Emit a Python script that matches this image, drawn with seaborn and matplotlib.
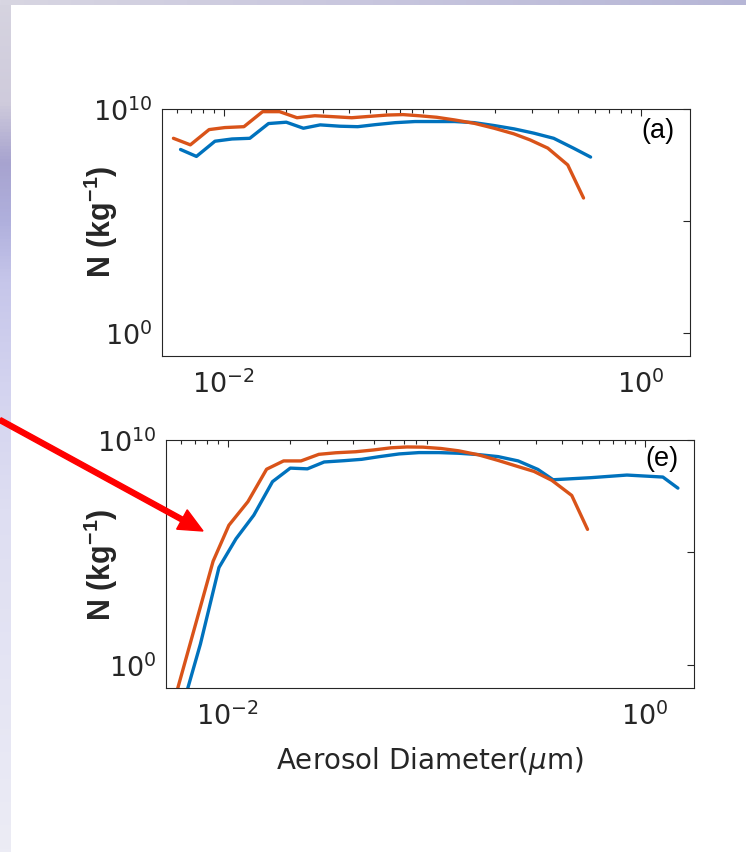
import matplotlib
matplotlib.use("Agg")
import numpy as np
import pandas as pd
import matplotlib.pyplot as plt
from matplotlib.patches import FancyArrow
from matplotlib.transforms import IdentityTransform
from matplotlib.ticker import LogLocator, NullLocator, FixedLocator, FixedFormatter
from matplotlib.colors import LinearSegmentedColormap
import seaborn as sns

# ---- size-distribution data (diameter in micrometres, N in kg^-1) ----
diam_orange = [0.00574, 0.00692, 0.00851, 0.01013, 0.0125, 0.01536, 0.01853,
               0.02246, 0.02735, 0.0330, 0.0411, 0.0500, 0.0608, 0.0724,
               0.0863, 0.105, 0.128, 0.159, 0.198, 0.246, 0.294, 0.358,
               0.446, 0.531]
diam_blue_a = [0.00621, 0.0074, 0.00908, 0.01096, 0.01334, 0.0164, 0.01995,
               0.0241, 0.0290, 0.0361, 0.0439, 0.0534, 0.0664, 0.0826,
               0.1028, 0.128, 0.159, 0.198, 0.247, 0.307, 0.382, 0.475, 0.574]
diam_blue_e = [0.00621, 0.0074, 0.00908, 0.01096, 0.01334, 0.0164, 0.01995,
               0.0241, 0.0290, 0.0361, 0.0439, 0.0534, 0.0664, 0.0826,
               0.1028, 0.128, 0.159, 0.198, 0.247, 0.307, 0.363, 0.55, 0.82,
               1.22, 1.44]

n_orange_a = [4.9e8, 2.5e8, 1.2e9, 1.48e9, 1.62e9, 7.6e9, 7.6e9, 4.07e9,
              5.0e9, 4.57e9, 4.07e9, 4.68e9, 5.37e9, 5.62e9, 5.0e9, 4.27e9,
              3.24e9, 2.29e9, 1.38e9, 7.76e8, 4.17e8, 1.78e8, 3.16e7, 1.05e6]
n_blue_a = [1.55e8, 7.6e7, 3.63e8, 4.57e8, 4.9e8, 2.24e9, 2.57e9, 1.38e9,
            1.95e9, 1.7e9, 1.62e9, 2.0e9, 2.45e9, 2.75e9, 2.75e9, 2.75e9,
            2.45e9, 1.82e9, 1.29e9, 8.3e8, 4.9e8, 1.78e8, 7.1e7]
n_orange_e = [7.9e-2, 40, 4.0e4, 1.6e6, 1.8e7, 5.0e8, 1.17e9, 1.17e9, 2.3e9,
              2.7e9, 3.0e9, 3.6e9, 4.5e9, 4.9e9, 4.8e9, 4.2e9, 3.3e9, 2.2e9,
              1.23e9, 6.6e8, 4.0e8, 1.6e8, 3.4e7, 1.05e6]
n_blue_e = [2.8e-2, 8.3, 2.1e4, 4.0e5, 4.5e6, 1.4e8, 5.6e8, 5.2e8, 1.05e9,
            1.2e9, 1.38e9, 1.82e9, 2.4e9, 2.75e9, 2.75e9, 2.57e9, 2.24e9,
            1.82e9, 1.17e9, 4.9e8, 1.7e8, 2.1e8, 2.75e8, 2.24e8, 7.2e7]

panel_labels = ["(a)", "(e)"]
x_ticks = [1e-2, 1e0]
x_tick_labels = [r"$\mathdefault{10^{-2}}$", r"$\mathdefault{10^{0}}$"]
y_ticks = [1e0, 1e5, 1e10]
y_tick_labels = [r"$\mathdefault{10^{0}}$", "", r"$\mathdefault{10^{10}}$"]

BLUE = "#0072BD"
ORANGE = "#D95319"
INK = "#262626"

frames = []
for panel, series, d, n in [("a", "s1", diam_blue_a, n_blue_a),
                            ("a", "s2", diam_orange, n_orange_a),
                            ("e", "s1", diam_blue_e, n_blue_e),
                            ("e", "s2", diam_orange, n_orange_e)]:
    frames.append(pd.DataFrame({"panel": panel, "series": series,
                                "diameter": d, "N": n}))
df = pd.concat(frames, ignore_index=True)

sns.set_theme(style="white")
plt.rcParams.update({
    "font.family": ["DejaVu Sans"],
    "mathtext.fontset": "dejavusans",
    "axes.edgecolor": INK,
    "axes.linewidth": 0.8,
    "xtick.color": INK,
    "ytick.color": INK,
    "text.color": INK,
    "axes.labelcolor": INK,
})

W, H = 746, 853
fig = plt.figure(figsize=(W / 100, H / 100), dpi=100)
fig.patch.set_facecolor("white")

# slide-style backdrop strips along the left and top edges
left_cmap = LinearSegmentedColormap.from_list(
    "leftstrip",
    [(0.0, "#d6d4e0"), (0.12, "#cfcbdc"), (0.19, "#a7a3cf"), (0.26, "#b0b0dd"),
     (0.33, "#c6c6ea"), (0.45, "#d3d3ef"), (0.6, "#dedef2"), (1.0, "#ececf5")])
ax_l = fig.add_axes([0, 0, 11 / W, 1])
ax_l.imshow(np.linspace(0, 1, 256)[:, None], aspect="auto", cmap=left_cmap)
ax_l.set_axis_off()
top_cmap = LinearSegmentedColormap.from_list(
    "topstrip", [(0.0, "#d8d6e2"), (0.5, "#c8c6de"), (1.0, "#b6b6d6")])
ax_t = fig.add_axes([0, 1 - 6 / H, 1, 6 / H])
ax_t.imshow(np.linspace(0, 1, 256)[None, :], aspect="auto", cmap=top_cmap)
ax_t.set_axis_off()

# axes rectangles in pixels: left, top, right, bottom
boxes = {"a": (162, 110, 690, 357), "e": (166, 441, 694, 689)}
ylab_pos = {"a": (-0.0795, 0.549), "e": (-0.087, 0.5)}

for panel, label in zip(["a", "e"], panel_labels):
    l, t, r, b = boxes[panel]
    ax = fig.add_axes([l / W, 1 - b / H, (r - l) / W, (b - t) / H])
    sub = df[df["panel"] == panel]
    sns.lineplot(data=sub, x="diameter", y="N", hue="series",
                 hue_order=["s1", "s2"], palette={"s1": BLUE, "s2": ORANGE},
                 estimator=None, sort=False, legend=False, linewidth=2.4,
                 ax=ax)
    ax.set_xscale("log")
    ax.set_yscale("log")
    ax.set_xlim(0.00506, 1.72)
    ax.set_ylim(0.091, 1e10)

    ax.xaxis.set_major_locator(FixedLocator(x_ticks))
    ax.xaxis.set_major_formatter(FixedFormatter(x_tick_labels))
    ax.xaxis.set_minor_locator(LogLocator(base=10, subs=np.arange(2, 10)))
    ax.yaxis.set_major_locator(FixedLocator(y_ticks))
    ax.yaxis.set_major_formatter(FixedFormatter(y_tick_labels))
    ax.yaxis.set_minor_locator(NullLocator())
    ax.tick_params(which="both", direction="in", top=True, right=True,
                   width=0.8, colors=INK, labelsize=19.5)
    ax.tick_params(which="major", length=5)
    ax.tick_params(which="minor", length=3)
    ax.tick_params(axis="x", which="major", pad=10)
    ax.tick_params(axis="y", which="major", pad=7)
    for s in ax.spines.values():
        s.set_visible(True)
        s.set_color(INK)
        s.set_linewidth(0.8)

    ax.set_xlabel("")
    ax.set_ylabel(r"N (kg$\mathdefault{^{-1}}$)", fontfamily="Liberation Sans",
                  fontweight="bold", fontsize=22, color=INK)
    ax.yaxis.set_label_coords(*ylab_pos[panel])

    ax.text(0.939, 0.915 if panel == "a" else 0.926, label,
            transform=ax.transAxes, ha="center", va="center",
            fontfamily="Liberation Sans", fontsize=19.5, color="black")

    if panel == "e":
        ax.set_xlabel(r"Aerosol Diameter($\mu$m)", fontsize=20, color=INK,
                      labelpad=10)

# red pointer arrow (pixel coordinates, origin bottom-left)
arrow = FancyArrow(0, H - 421, 203, -111, width=5, head_width=22,
                   head_length=24, length_includes_head=True,
                   color="#ff0000", transform=IdentityTransform())
arrow.set_zorder(10)
fig.add_artist(arrow)

fig.savefig("out.png", dpi=100, facecolor="white")
